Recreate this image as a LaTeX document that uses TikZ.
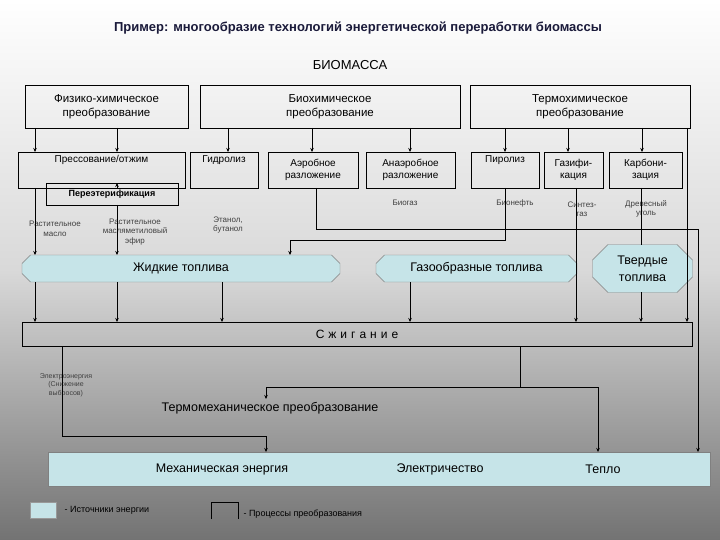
\documentclass[tikz,border=0pt]{standalone}
\usepackage{fontspec}
\setmainfont{Liberation Sans}
\usetikzlibrary{shapes.geometric,shapes.misc,arrows.meta}
\definecolor{fuel}{HTML}{C6E4E8}
\tikzset{
 proc/.style={draw=black,line width=0.6pt,align=center,inner sep=0pt,font=\fontsize{10}{11.5}\selectfont},
 lbl/.style={align=center,font=\fontsize{8}{9.5}\selectfont,text=black!75},
 ln/.style={line width=0.6pt},
 ar/.style={line width=0.6pt,-{Stealth[length=4pt,width=3.5pt]}},
 band/.style={draw=black!50,fill=fuel,chamfered rectangle,chamfered rectangle xsep=5pt,inner sep=0pt,font=\fontsize{12.5}{14}\selectfont}
}
\begin{document}
\begin{tikzpicture}[x=1pt,y=-1pt]
\shade[top color=white,bottom color=black!55,middle color=black!15] (0,0) rectangle (720,540);
\useasboundingbox (0,0) rectangle (720,540);
\node (title) at (358,28) {\fontsize{13}{15}\selectfont\bfseries\color[HTML]{1A1A3A}Пример: многообразие технологий энергетической переработки биомассы};
\node (bio) at (350,65) {\fontsize{13}{15}\selectfont БИОМАССА};
% top boxes
\node[proc,minimum width=163,minimum height=43,font=\fontsize{11.5}{14}\selectfont] (fh) at (106.5,106.5) {Физико-химическое\\преобразование};
\node[proc,minimum width=260,minimum height=43,font=\fontsize{11.5}{14}\selectfont] (bh) at (330,106.5) {Биохимическое\\преобразование};
\node[proc,minimum width=220,minimum height=43,font=\fontsize{11.5}{14}\selectfont] (th) at (580,106.5) {Термохимическое\\преобразование};
% row 2
\node[proc,minimum width=167,minimum height=36] (press) at (101.5,170) {Прессование/отжим\\[10pt]};
\node[proc,minimum width=132,minimum height=22,font=\fontsize{9}{10}\selectfont\bfseries] (pere) at (112,194) {Переэтерификация};
\node[proc,minimum width=68,minimum height=36] (gidr) at (224,170) {Гидролиз\\[10pt]};
\node[proc,minimum width=90,minimum height=36] (aer) at (313,170) {Аэробное\\разложение};
\node[proc,minimum width=89,minimum height=36] (anaer) at (410.5,170) {Анаэробное\\разложение};
\node[proc,minimum width=68,minimum height=36] (pir) at (505,170) {Пиролиз\\[10pt]};
\node[proc,minimum width=59,minimum height=36] (gaz) at (573.5,170) {Газифи-\\кация};
\node[proc,minimum width=73,minimum height=36] (karb) at (645.5,170) {Карбони-\\зация};
% arrows top -> row2
\foreach \x in {35,117,228,312,410,505,568,642}
 \draw[ar] (\x,128) -- (\x,152);
% labels
\node[lbl] (l1) at (55,229) {Растительное\\масло};
\node[lbl] (l2) at (135,232) {Растительное\\масляметиловый\\эфир};
\node[lbl] (l3) at (228,225) {Этанол,\\бутанол};
\node[lbl] (l4) at (405,203) {Биогаз};
\node[lbl] (l5) at (515,203) {Бионефть};
\node[lbl] (l6) at (582,209) {Синтез-\\газ};
\node[lbl] (l7) at (646,209) {Древесный\\уголь};
% bands
\node[band,minimum width=318,minimum height=27] (liq) at (181,268.5) {Жидкие топлива};
\node[band,minimum width=201,minimum height=27] (gas) at (476.5,268.5) {Газообразные топлива};
\node[band,minimum width=100,minimum height=48,chamfered rectangle xsep=12pt,align=center,font=\fontsize{12.5}{17}\selectfont] (sol) at (642.5,268.5) {Твердые\\топлива};
% burning
\node[proc,minimum width=670,minimum height=24,font=\fontsize{12}{13}\selectfont] (burn) at (357,334) {С\,\,ж\,\,и\,\,г\,\,а\,\,н\,\,и\,\,е};
% connections
\draw[ar] (35,188) -- (35,255);
\draw[ar] (117,205) -- (117,255);
\draw[ar] (117,188) -- (117,183);
\draw[ar] (35,282) -- (35,322);
\draw[ar] (117,282) -- (117,322);
\draw[ar] (222,282) -- (222,322);
\draw[ar] (410,282) -- (410,322);
\draw[ar] (505,188) |- (290,240) -- (290,255);
\draw[ar] (576,188) -- (576,322);
\draw[ln] (641,188) -- (641,245);
\draw[ar] (641,292) -- (641,322);
\draw[ar] (687,128) -- (687,322);
% thermomech
\node[font=\fontsize{12.5}{14}\selectfont] (tm) at (270,408) {Термомеханическое преобразование};
\node[band,minimum width=662,minimum height=34] (out) at (379,469) {};
\node[font=\fontsize{12.5}{14}\selectfont] (me) at (222,469) {Механическая энергия};
\node[font=\fontsize{12.5}{14}\selectfont] (el) at (440,469) {Электричество};
\node[font=\fontsize{12.5}{14}\selectfont] (tp) at (603,469) {Тепло};
\draw[ar] (316,188) |- (698,229) -- (698,452);
\draw[ln] (520,346) -- (520,387);
\draw[ln] (266,387) -- (598,387);
\draw[ar] (598,387) -- (598,452);
\draw[ar] (266,387) -- (266,399);
\node[lbl,font=\fontsize{7}{8.5}\selectfont] (ee) at (66,385) {Электроэнергия\\(Снижение\\выбросов)};
\draw[ln] (62,346) |- (266,436);
\draw[ar] (266,436) -- (266,452);
% legend
\node[draw=black!40,fill=fuel,minimum width=26,minimum height=16,inner sep=0pt] (lg1) at (43,510) {};
\node[anchor=west,font=\fontsize{9}{10}\selectfont] (lt1) at (lg1.east) {\ \ - Источники энергии};
\draw[ln] (211,519) |- (238,502) -- (238,519);
\node[anchor=west,font=\fontsize{9}{10}\selectfont] (lt2) at (240,514) {- Процессы преобразования};
\end{tikzpicture}
\end{document}
